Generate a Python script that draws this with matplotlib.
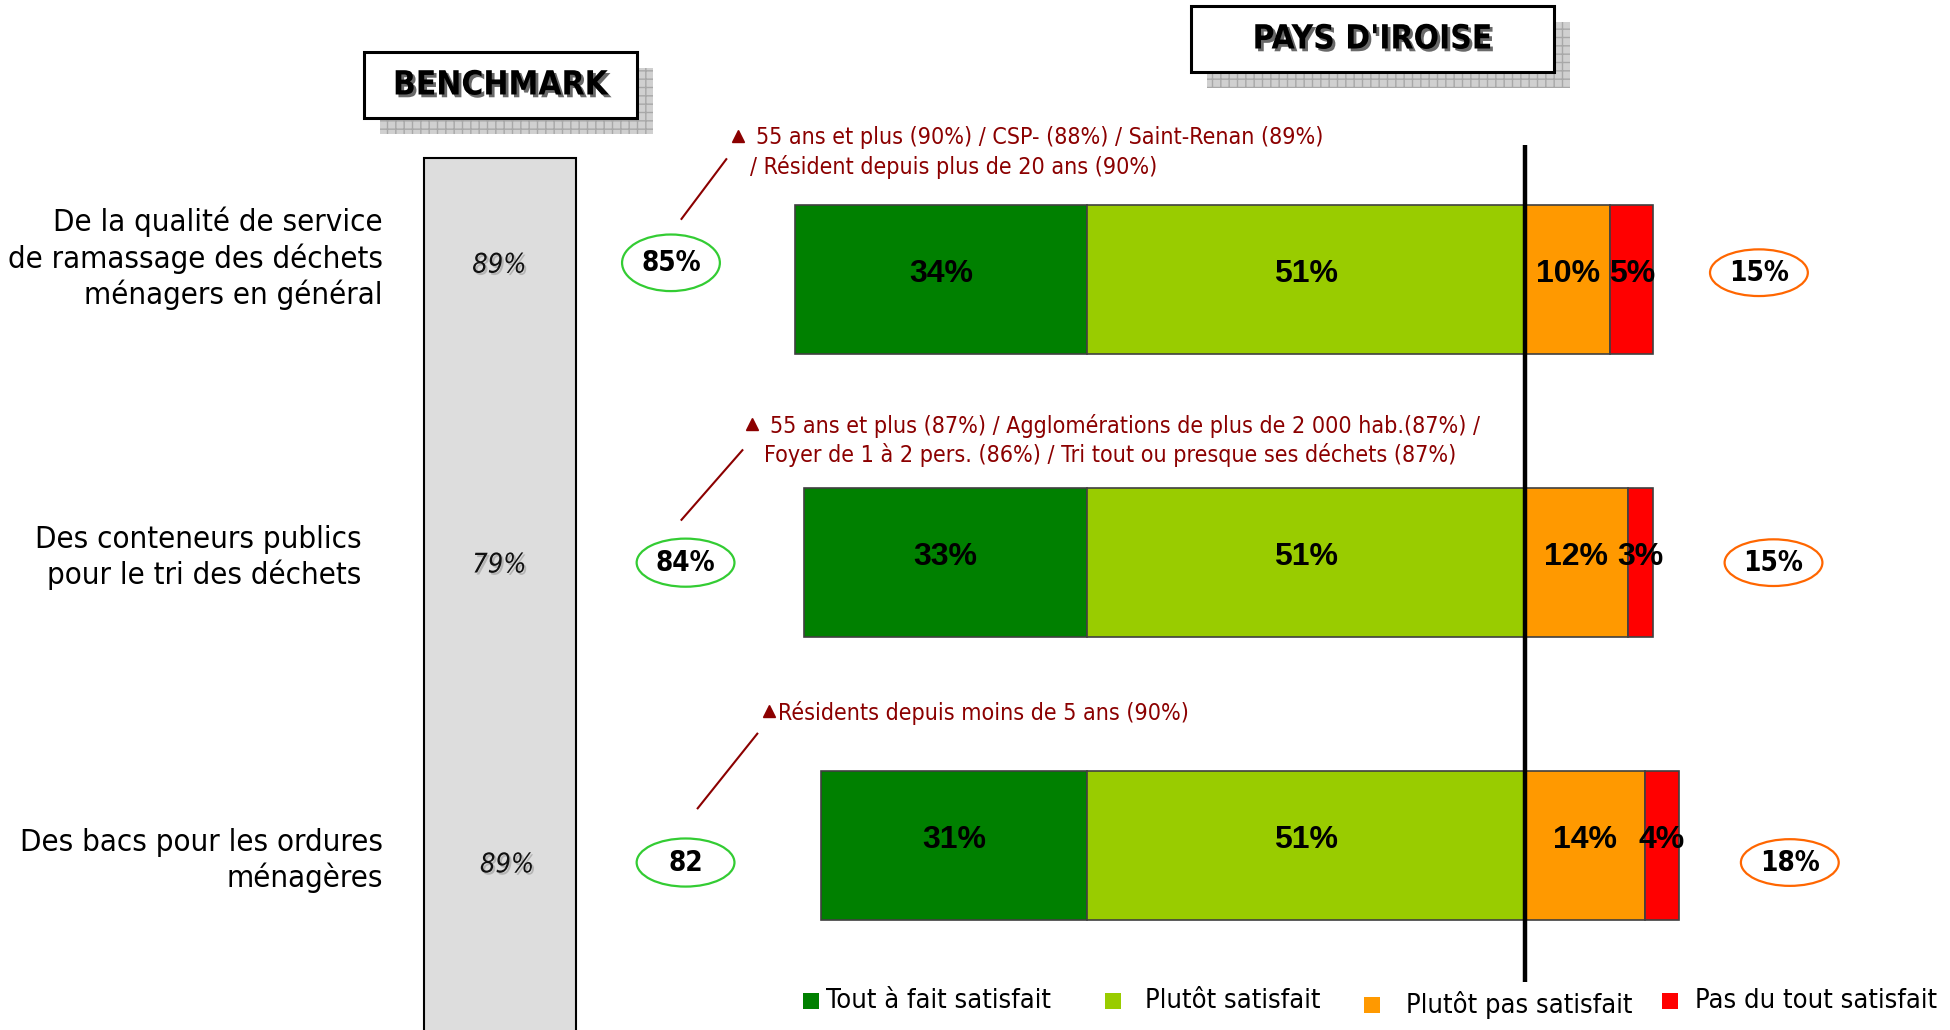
import matplotlib
matplotlib.use("Agg")
import matplotlib.pyplot as plt
from matplotlib.patches import Rectangle, Ellipse
import matplotlib.patheffects as pe

plt.rcParams['font.family'] = ['DejaVu Sans']
plt.rcParams['font.stretch'] = 'condensed'

# --- data -------------------------------------------------------------
categories = [
    "De la qualité de service\nde ramassage des déchets\nménagers en général",
    "Des conteneurs publics\npour le tri des déchets",
    "Des bacs pour les ordures\nménagères",
]
tout_a_fait = [34, 33, 31]
plutot_sat = [51, 51, 51]
plutot_pas = [10, 12, 14]
pas_du_tout = [5, 3, 4]
total_sat = [85, 84, 82]
total_sat_labels = ["85%", "84%", "82"]
total_insat = [15, 15, 18]
benchmark = ["89%", "79%", "89%"]
notes = [
    "55 ans et plus (90%) / CSP- (88%) / Saint-Renan (89%)\n/ Résident depuis plus de 20 ans (90%)",
    "55 ans et plus (87%) / Agglomérations de plus de 2 000 hab.(87%) /\nFoyer de 1 à 2 pers. (86%) / Tri tout ou presque ses déchets (87%)",
    "Résidents depuis moins de 5 ans (90%)",
]
legend_labels = ["Tout à fait satisfait", "Plutôt satisfait",
                 "Plutôt pas satisfait", "Pas du tout satisfait"]
colors = ["#008000", "#99CC00", "#FF9900", "#FF0000"]

# --- figure -------------------------------------------------------------
W, H = 1950, 1030
fig = plt.figure(figsize=(W / 100, H / 100), dpi=100)

# overlay axes in pixel coordinates for layout items
ax = fig.add_axes([0, 0, 1, 1])
ax.set_xlim(0, W)
ax.set_ylim(H, 0)
ax.axis('off')

# bar axes: x in %, zero at the satisfied / unsatisfied split
bx = fig.add_axes([0, 0, 1, 1])
bx.patch.set_alpha(0)
bx.set_xlim(-177.7, 49.57)
bx.set_ylim(2.652, -0.989)
bx.axis('off')

y = list(range(len(categories)))
rows = [i + (i - 1) * 0.06 for i in y]   # text rows sit a bit apart from bars
bh = 0.527

left_pl = [-v for v in plutot_sat]
left_tf = [-(a + b) for a, b in zip(plutot_sat, tout_a_fait)]
left_pd = plutot_pas
segs = [
    (tout_a_fait, left_tf),
    (plutot_sat, left_pl),
    (plutot_pas, [0] * 3),
    (pas_du_tout, left_pd),
]
for (vals, lefts), c in zip(segs, colors):
    bx.barh(y, vals, left=lefts, height=bh, color=c, edgecolor='#404040',
            linewidth=1.2, zorder=2)
    for yi, v, l in zip(y, vals, lefts):
        bx.text(l + v / 2, yi - 0.02, f"{v}%", ha='center', va='center',
                fontsize=23, fontweight='bold', family='Liberation Sans',
                fontstretch='normal', color='black', zorder=4)

# divider line
bx.vlines(0, -0.475, 2.484, color='black', linewidth=3.2, zorder=3)

# total ellipses
green_gap = [14.5, 13.8, 15.8]
orange_gap = [12.3, 14.0, 12.9]
for yi, r, ts, tl, ti in zip(y, rows, total_sat, total_sat_labels, total_insat):
    gx = -(ts + green_gap[yi])
    bx.add_patch(Ellipse((gx, r), 11.4, 0.17 if yi else 0.2, facecolor='white',
                         edgecolor='#33CC33', linewidth=1.6, zorder=3))
    bx.text(gx, r, tl, ha='center', va='center', fontsize=20,
            fontweight='bold', zorder=4)
    ox = ti + orange_gap[yi]
    oy = r + (0.035 if yi == 0 else 0)
    bx.add_patch(Ellipse((ox, oy), 11.4, 0.165, facecolor='white',
                         edgecolor='#FF6600', linewidth=1.6, zorder=3))
    bx.text(ox, oy, f"{ti}%", ha='center', va='center', fontsize=20,
            fontweight='bold', zorder=4)

# benchmark column
ax.add_patch(Rectangle((424, 158), 152, 900, facecolor='#DDDDDD',
                       edgecolor='black', linewidth=1.5, zorder=1))
for r, b in zip(rows, benchmark):
    bx.text(-119.5 if r < 2 else -118.6, r + 0.01, b, ha='center',
            va='center', fontsize=19.5, fontstyle='italic', color='#111111',
            zorder=4,
            path_effects=[pe.SimplePatchShadow(offset=(1.5, -1.5),
                                               shadow_rgbFace='#999999',
                                               alpha=0.6), pe.Normal()])

# category labels
cat_x = [-133.1, -135.6, -133.1]
cat_y = [-0.075, 0.982, 2.053]
for c, cx, cy in zip(categories, cat_x, cat_y):
    bx.text(cx, cy, c, ha='right', va='center', fontsize=22.4,
            linespacing=1.24)

# header boxes
def header(x0, y0, w, h, label):
    ax.add_patch(Rectangle((x0 + 16, y0 + 16), w, h, facecolor='#D0D0D0',
                           edgecolor='#A8A8A8', hatch='++', linewidth=0,
                           zorder=1))
    ax.add_patch(Rectangle((x0, y0), w, h, facecolor='white',
                           edgecolor='black', linewidth=2.2, zorder=2))
    ax.text(x0 + w / 2, y0 + h / 2, label, ha='center', va='center',
            fontsize=24, fontweight='bold', zorder=3,
            path_effects=[pe.SimplePatchShadow(offset=(2, -2),
                                               shadow_rgbFace='#444444',
                                               alpha=0.8), pe.Normal()])

header(364, 52, 273, 66, "BENCHMARK")
header(1191, 6, 363, 66, "PAYS D'IROISE")

# notes with leader lines
note_col = '#8B0000'
tri_pos = [(737.5, 135.6), (752.4, 424.0), (768.5, 711.3)]
line2_x = [750, 763.6, None]
leaders = [((681.5, 218.9), (726.3, 159.2)),
           ((681.5, 519.8), (742.4, 450.2)),
           ((697.7, 808.3), (757.3, 733.7))]
for n, (tx, ty), l2x, (p0, p1) in zip(notes, tri_pos, line2_x, leaders):
    ax.plot(tx, ty, marker='^', color=note_col, markersize=9, zorder=4)
    lines = n.split("\n")
    gap = 18 if len(lines) > 1 else 10
    ax.text(tx + gap, ty + 2, lines[0], ha='left', va='center',
            fontsize=16.7, color=note_col)
    if len(lines) > 1:
        ax.text(l2x, ty + 31, lines[1], ha='left', va='center',
                fontsize=16.7, color=note_col)
    ax.plot([p0[0], p1[0]], [p0[1], p1[1]], color=note_col, linewidth=1.5)

# legend
sq_x = [811, 1113, 1372, 1670]
sq_y = [1001, 1001, 1005, 1001]
tx_x = [826, 1145, 1406, 1695]
for lab, c, sx, sy, lx in zip(legend_labels, colors, sq_x, sq_y, tx_x):
    ax.add_patch(Rectangle((sx - 8, sy - 8), 16, 16, facecolor=c,
                           edgecolor='none'))
    ax.text(lx, sy, lab, ha='left', va='center', fontsize=19.5)

fig.savefig("out.png", dpi=100)
